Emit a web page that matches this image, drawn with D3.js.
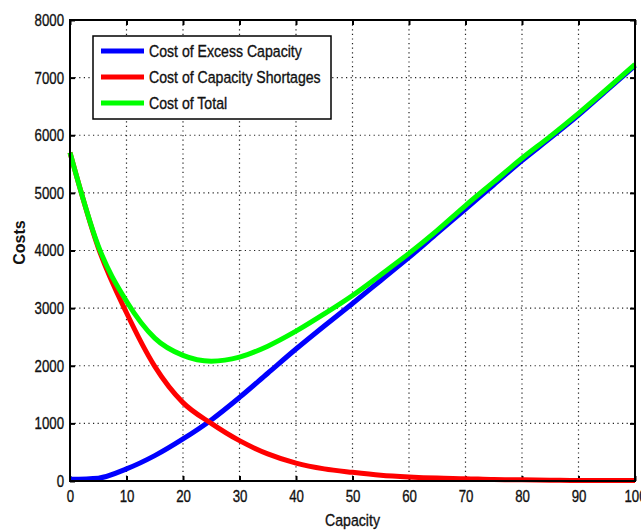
<!DOCTYPE html>
<html>
<head>
    <meta charset="utf-8" />
    <title>Costs vs Capacity</title>
    <style>
        body { margin: 0; background: #fff; }
        text { font-family: "Liberation Sans", Arial, sans-serif; fill: #111; }
        .grid line { stroke: #222; stroke-width: 1.2; stroke-dasharray: 1.2,3.4; }
    </style>
</head>
<body>
    <div id="chart"></div>
    <script src="https://cdn.jsdelivr.net/npm/d3@7/dist/d3.min.js"></script>
    <script>
        // data
        var capacity = [0, 5, 10, 15, 20, 25, 30, 35, 40, 45, 50, 55, 60, 65, 70, 75, 80, 85, 90, 95, 100];
        var excessCost = [30, 50, 210, 440, 730, 1060, 1450, 1870, 2290, 2690, 3080, 3480, 3880, 4300, 4720, 5140, 5560, 5950, 6350, 6780, 7210];
        var shortageCost = [5700, 4050, 2920, 1990, 1360, 1000, 700, 470, 310, 210, 150, 100, 70, 50, 40, 25, 20, 15, 10, 10, 10];
        var totalCost = [5700, 4080, 3120, 2480, 2180, 2080, 2150, 2340, 2600, 2900, 3220, 3580, 3950, 4350, 4780, 5190, 5600, 5980, 6380, 6800, 7230];
        var xTicks = [0, 10, 20, 30, 40, 50, 60, 70, 80, 90, 100];
        var yTicks = [0, 1000, 2000, 3000, 4000, 5000, 6000, 7000, 8000];
        var seriesNames = ["Cost of Excess Capacity", "Cost of Capacity Shortages", "Cost of Total"];
        var seriesColors = ["#0000ff", "#ff0000", "#00ff00"];

        var W = 641, H = 531;
        var margins = { left: 70, right: 6, top: 20, bottom: 50 };
        var width = W - margins.left - margins.right;
        var height = H - margins.top - margins.bottom;
        var sx = 0.78; // squeeze text to look like a narrow font

        var svg = d3.select("#chart").append("svg")
            .attr("width", W).attr("height", H)
            .append("g")
            .attr("transform", "translate(" + margins.left + "," + margins.top + ")");

        var x = d3.scaleLinear().domain([0, 100]).range([0, width]);
        var y = d3.scaleLinear().domain([0, 8000]).range([height, 0]);

        // dotted grid
        var grid = svg.append("g").attr("class", "grid");
        grid.selectAll(".gx").data(xTicks.slice(1, -1)).join("line")
            .attr("x1", d => x(d)).attr("x2", d => x(d))
            .attr("y1", 0).attr("y2", height);
        grid.selectAll(".gy").data(yTicks.slice(1, -1)).join("line")
            .attr("y1", d => y(d)).attr("y2", d => y(d))
            .attr("x1", 0).attr("x2", width);

        // axes, ticks pointing inward like matlab
        function styleAxis(g) {
            g.select(".domain").remove();
            g.selectAll(".tick line").attr("stroke", "#000").attr("stroke-width", 2);
            g.selectAll(".tick text")
                .style("font-size", "17px")
                .attr("fill", "#111").attr("stroke", "#111").attr("stroke-width", 0.35)
                .attr("x", function () { return (+d3.select(this).attr("x") || 0) / sx; })
                .attr("transform", "scale(" + sx + ",1)");
        }
        svg.append("g").attr("transform", "translate(0," + height + ")")
            .call(d3.axisBottom(x).tickValues(xTicks).tickFormat(d3.format("d")).tickSizeInner(-5).tickSizeOuter(0).tickPadding(9))
            .call(styleAxis);
        svg.append("g")
            .call(d3.axisLeft(y).tickValues(yTicks).tickFormat(d3.format("d")).tickSizeInner(-5).tickSizeOuter(0).tickPadding(6))
            .call(styleAxis);
        svg.append("g")
            .call(d3.axisTop(x).tickValues(xTicks).tickSizeInner(-5).tickSizeOuter(0).tickFormat(""))
            .call(styleAxis);
        svg.append("g").attr("transform", "translate(" + width + ",0)")
            .call(d3.axisRight(y).tickValues(yTicks).tickSizeInner(-5).tickSizeOuter(0).tickFormat(""))
            .call(styleAxis);

        // lines
        var rows = capacity.map((c, i) => ({ c: c, v: [excessCost[i], shortageCost[i], totalCost[i]] }));
        var line = d3.line().curve(d3.curveMonotoneX);
        seriesNames.forEach(function (name, k) {
            svg.append("path")
                .attr("d", line(rows.map(r => [x(r.c), y(r.v[k])])))
                .attr("fill", "none")
                .attr("stroke", seriesColors[k])
                .attr("stroke-width", 5)
                .attr("stroke-linejoin", "round");
        });

        // frame
        svg.append("rect")
            .attr("width", width).attr("height", height)
            .attr("fill", "none").attr("stroke", "#000").attr("stroke-width", 2);

        // legend
        var leg = svg.append("g").attr("transform", "translate(23,16)");
        leg.append("rect")
            .attr("width", 238).attr("height", 83)
            .attr("fill", "#fff").attr("stroke", "#000").attr("stroke-width", 1.5);
        leg.selectAll(".item").data(seriesNames).join("g")
            .attr("transform", (d, i) => "translate(0," + (15 + i * 26) + ")")
            .each(function (d, i) {
                var g = d3.select(this);
                g.append("line").attr("x1", 8).attr("x2", 51)
                    .attr("stroke", seriesColors[i]).attr("stroke-width", 5);
                g.append("text").attr("transform", "translate(56,0) scale(0.83,1)")
                    .attr("dy", "0.36em")
                    .attr("stroke", "#111").attr("stroke-width", 0.35)
                    .style("font-size", "17px").text(d);
            });

        // axis titles
        svg.append("text")
            .attr("transform", "translate(" + (width / 2) + "," + (height + 45) + ") scale(0.83,1)")
            .attr("text-anchor", "middle")
            .attr("stroke", "#111").attr("stroke-width", 0.35)
            .style("font-size", "17px")
            .text("Capacity");
        svg.append("text")
            .attr("transform", "translate(-45," + (y(4000) - 8) + ") rotate(-90)")
            .attr("text-anchor", "middle")
            .style("font-size", "16px").style("font-weight", "bold")
            .text("Costs");
    </script>
</body>
</html>
